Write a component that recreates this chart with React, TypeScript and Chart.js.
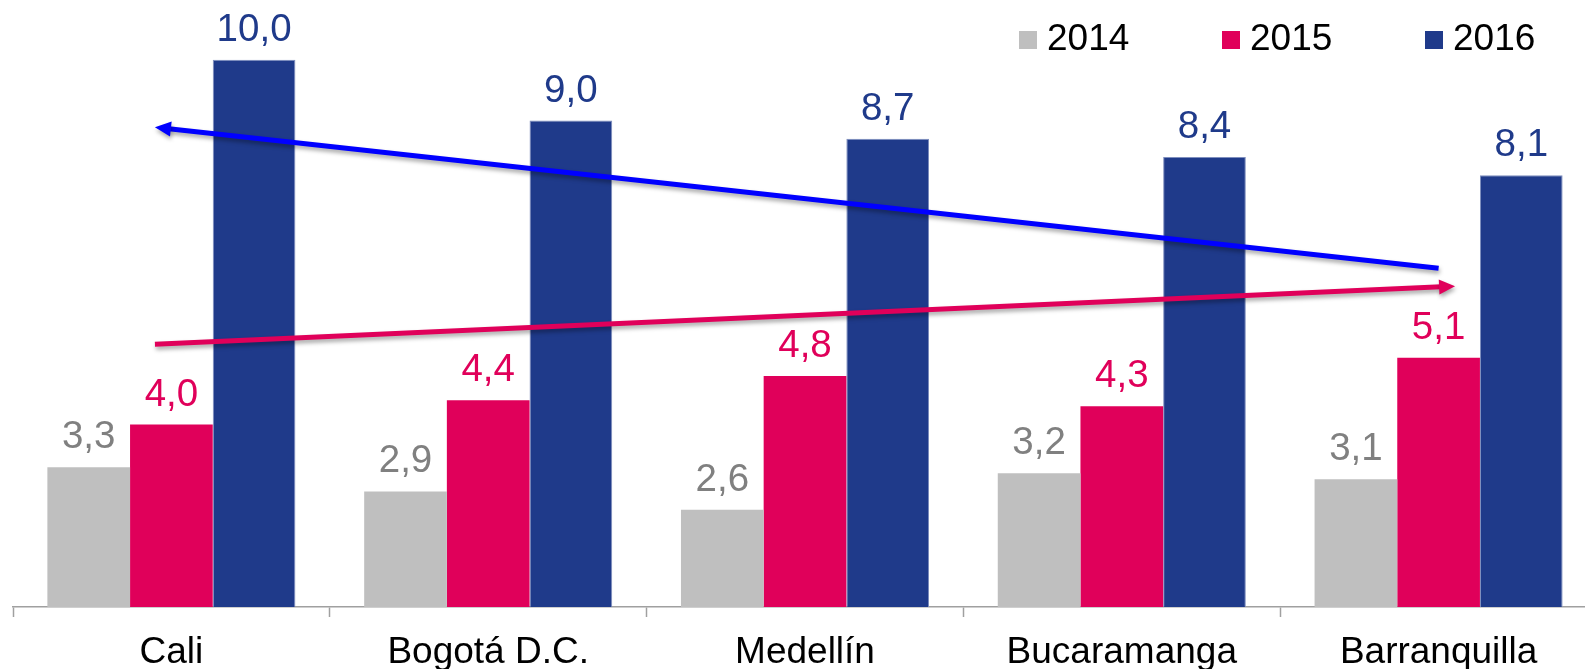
import React, { useEffect, useRef } from "react";
import { Chart, registerables } from "chart.js";

Chart.register(...registerables);

const categories = ["Cali", "Bogotá D.C.", "Medellín", "Bucaramanga", "Barranquilla"];
const seriesLabels = ["2014", "2015", "2016"];
const values2014 = [3.3, 2.9, 2.6, 3.2, 3.1];
const values2015 = [4.0, 4.4, 4.8, 4.3, 5.1];
const values2016 = [10.0, 9.0, 8.7, 8.4, 8.1];

// trend arrows in data coordinates: [category index, value]
const blueArrowFrom = [4.0, 6.57];
const blueArrowTo = [-0.052, 8.89];
const pinkArrowFrom = [-0.052, 5.32];
const pinkArrowTo = [4.052, 6.275];

const GREY = "#BFBFBF";
const PINK = "#E0005A";
const BLUE = "#1F3A8A";
const LABEL_COLORS = ["#808080", PINK, BLUE];
const FONT = '"Liberation Sans", Arial, sans-serif';

function drawArrow(ctx: CanvasRenderingContext2D, x1: number, y1: number, x2: number, y2: number, color: string) {
  const ang = Math.atan2(y2 - y1, x2 - x1);
  const headLen = 16;
  const headHalf = 7.5;
  const bx = x2 - Math.cos(ang) * headLen;
  const by = y2 - Math.sin(ang) * headLen;
  ctx.save();
  ctx.shadowColor = "rgba(0,0,0,0.35)";
  ctx.shadowBlur = 4;
  ctx.shadowOffsetX = 1;
  ctx.shadowOffsetY = 3;
  ctx.strokeStyle = color;
  ctx.fillStyle = color;
  ctx.lineWidth = 5;
  ctx.beginPath();
  ctx.moveTo(x1, y1);
  ctx.lineTo(bx + Math.cos(ang) * 2, by + Math.sin(ang) * 2);
  ctx.stroke();
  ctx.beginPath();
  ctx.moveTo(x2, y2);
  ctx.lineTo(bx + Math.sin(ang) * headHalf, by - Math.cos(ang) * headHalf);
  ctx.lineTo(bx - Math.sin(ang) * headHalf, by + Math.cos(ang) * headHalf);
  ctx.closePath();
  ctx.fill();
  ctx.restore();
}

const overlayPlugin = {
  id: "overlay",
  afterDatasetsDraw(chart: any) {
    const ctx: CanvasRenderingContext2D = chart.ctx;
    // data labels
    ctx.save();
    ctx.font = `38.5px ${FONT}`;
    ctx.textAlign = "center";
    ctx.textBaseline = "alphabetic";
    chart.data.datasets.forEach((ds: any, di: number) => {
      const meta = chart.getDatasetMeta(di);
      meta.data.forEach((bar: any, i: number) => {
        const v = ds.data[i] as number;
        ctx.fillStyle = LABEL_COLORS[di];
        ctx.fillText(v.toFixed(1).replace(".", ","), bar.x, bar.y - 19);
      });
    });
    ctx.restore();
    // trend arrows
    const xs = chart.scales.x;
    const ys = chart.scales.y;
    drawArrow(
      ctx,
      xs.getPixelForValue(blueArrowFrom[0]), ys.getPixelForValue(blueArrowFrom[1]),
      xs.getPixelForValue(blueArrowTo[0]), ys.getPixelForValue(blueArrowTo[1]),
      "#0000FF"
    );
    drawArrow(
      ctx,
      xs.getPixelForValue(pinkArrowFrom[0]), ys.getPixelForValue(pinkArrowFrom[1]),
      xs.getPixelForValue(pinkArrowTo[0]), ys.getPixelForValue(pinkArrowTo[1]),
      PINK
    );
    // legend
    const legendX = [1019, 1222, 1425];
    ctx.save();
    ctx.font = `37px ${FONT}`;
    ctx.textAlign = "left";
    ctx.textBaseline = "alphabetic";
    chart.data.datasets.forEach((ds: any, di: number) => {
      const x = legendX[di];
      ctx.fillStyle = ds.backgroundColor;
      ctx.fillRect(x, 31, 18, 18);
      ctx.fillStyle = "#000000";
      ctx.fillText(ds.label, x + 28, 49.5);
    });
    ctx.restore();
  },
};

export default function App() {
  const ref = useRef<HTMLCanvasElement>(null);
  useEffect(() => {
    if (!ref.current) return;
    const chart = new Chart(ref.current, {
      type: "bar",
      data: {
        labels: categories,
        datasets: [
          { label: seriesLabels[0], data: values2014, backgroundColor: GREY, borderWidth: 0 },
          { label: seriesLabels[1], data: values2015, backgroundColor: PINK, borderWidth: 0 },
          { label: seriesLabels[2], data: values2016, backgroundColor: BLUE, borderColor: "#7E8EBE", borderWidth: 1 },
        ],
      },
      options: {
        responsive: false,
        animation: false,
        devicePixelRatio: 1,
        layout: { padding: { left: 13, right: 3, top: 5, bottom: 0 } },
        datasets: { bar: { categoryPercentage: 0.783, barPercentage: 1.0 } },
        plugins: { legend: { display: false }, tooltip: { enabled: false } },
        scales: {
          x: {
            grid: {
              display: true,
              drawOnChartArea: false,
              drawTicks: true,
              tickLength: 10,
              tickColor: "#A0A0A0",
              tickWidth: 1.5,
              offset: true,
            },
            border: { display: true, color: "#A0A0A0", width: 1.5 },
            ticks: {
              color: "#000000",
              padding: 14,
              font: { family: FONT, size: 37 },
              maxRotation: 0,
              autoSkip: false,
            },
            afterFit: (scale: any) => {
              scale.height = 93;
            },
          },
          y: {
            display: false,
            min: 1,
            max: 10.9,
          },
        },
      },
      plugins: [overlayPlugin],
    });
    return () => chart.destroy();
  }, []);
  return (
    <div
      style={{
        position: "fixed",
        left: 0,
        top: 0,
        width: 1585,
        height: 669,
        overflow: "hidden",
        background: "#ffffff",
      }}
    >
      <canvas ref={ref} width={1600} height={700} style={{ display: "block", width: 1600, height: 700 }} />
    </div>
  );
}
